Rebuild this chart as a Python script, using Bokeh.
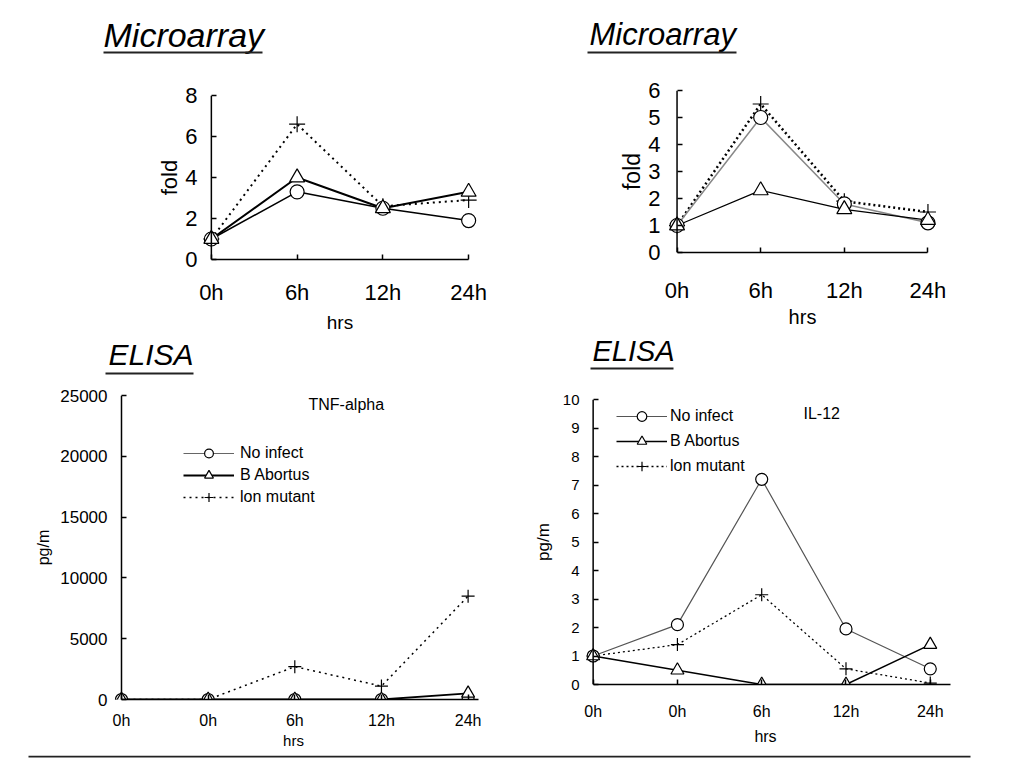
from bokeh.plotting import figure
from bokeh.models import Range1d, FixedTicker, Label, Arrow, Legend, LegendItem, LinearAxis, Span
from bokeh.layouts import row, column
from bokeh.embed import file_html
from bokeh.resources import INLINE

# ---------------- data ----------------
hours4 = ["0h", "6h", "12h", "24h"]
hours5 = ["0h", "0h", "6h", "12h", "24h"]
series_names = ["No infect", "B Abortus", "lon mutant"]

# Microarray (left)
tl_no_infect = [1.0, 3.3, 2.5, 1.9]
tl_abortus = [1.0, 4.0, 2.5, 3.3]
tl_lon = [1.0, 6.6, 2.6, 2.9]
tl_yticks = [0, 2, 4, 6, 8]

# Microarray (right)
tr_no_infect = [1.0, 5.0, 1.8, 1.1]
tr_abortus = [1.0, 2.3, 1.6, 1.2]
tr_lon = [1.0, 5.5, 1.9, 1.5]
tr_yticks = [0, 1, 2, 3, 4, 5, 6]

# ELISA TNF-alpha
bl_no_infect = [0, 0, 0, 0, 0]
bl_abortus = [0, 0, 0, 0, 500]
bl_lon = [0, 0, 2700, 1100, 8500]
bl_yticks = [0, 5000, 10000, 15000, 20000, 25000]

# ELISA IL-12
br_no_infect = [1.0, 2.1, 7.2, 1.95, 0.55]
br_abortus = [1.0, 0.5, 0.0, 0.0, 1.4]
br_lon = [1.0, 1.4, 3.15, 0.55, 0.05]
br_yticks = list(range(0, 11))

SANS = "Liberation Sans"


def base_fig(width, height, left, right, top, bottom, xr, yr):
    p = figure(width=width, height=height, x_range=Range1d(*xr), y_range=Range1d(*yr),
               min_border_left=left, min_border_right=right,
               min_border_top=top, min_border_bottom=bottom,
               output_backend="svg", toolbar_location=None, tools="")
    p.frame_align = False
    p.xgrid.visible = False
    p.ygrid.visible = False
    p.outline_line_color = None
    p.background_fill_color = "white"
    p.border_fill_color = "white"
    return p


def title_fig(width, height, text, tx, ty, ux0, ux1, uy, size):
    p = figure(width=width, height=height, x_range=Range1d(0, 1), y_range=Range1d(0, 1),
               min_border=0, x_axis_type=None, y_axis_type=None,
               output_backend="svg", toolbar_location=None, tools="")
    p.frame_align = False
    p.outline_line_color = None
    p.background_fill_color = "white"
    p.border_fill_color = "white"
    if text:
        p.add_layout(Label(x=tx, y=ty, x_units="screen", y_units="screen", text=text,
                           text_font=SANS, text_font_style="italic", text_font_size=size,
                           text_color="black", text_baseline="alphabetic"))
    p.add_layout(Arrow(end=None, x_start=ux0, y_start=uy, x_end=ux1, y_end=uy,
                       start_units="screen", end_units="screen",
                       line_color="#222222", line_width=2))
    return p


def style_x(ax, size, lw, standoff, bounds, ticks, labels):
    ax.axis_line_color = "black"
    ax.axis_line_width = lw
    ax.major_tick_line_color = "black"
    ax.major_tick_line_width = lw
    ax.major_tick_in = 5
    ax.major_tick_out = 0
    ax.minor_tick_line_color = None
    ax.major_label_text_font = SANS
    ax.major_label_text_font_size = size
    ax.major_label_text_color = "black"
    ax.major_label_standoff = standoff
    ax.bounds = bounds
    ax.ticker = FixedTicker(ticks=ticks)
    ax.major_label_overrides = dict(zip(ticks, labels))


def style_y(p, size, lw, standoff, ticks, label, label_size, label_standoff):
    # axis sits at the frame edge, 13 px left of x = 0; ticks are shifted onto x = 0
    ax = p.yaxis[0]
    ax.axis_line_color = None
    ax.major_tick_line_color = "black"
    ax.major_tick_line_width = lw
    ax.minor_tick_line_color = None
    ax.major_tick_in = 18
    ax.major_tick_out = -13
    ax.major_label_text_font = SANS
    ax.major_label_text_font_size = size
    ax.major_label_text_color = "black"
    ax.major_label_standoff = standoff
    ax.ticker = FixedTicker(ticks=ticks)
    ax.axis_label = label
    ax.axis_label_text_font = SANS
    ax.axis_label_text_font_style = "normal"
    ax.axis_label_text_font_size = label_size
    ax.axis_label_text_color = "black"
    ax.axis_label_standoff = label_standoff
    p.add_layout(Span(location=0, dimension="height", line_color="black", line_width=lw))


def series(p, xs, ys, color, width, dash):
    return p.line(xs, ys, line_color=color, line_width=width, line_dash=dash)


def markers(p, xs, ys, marker, size):
    return p.scatter(xs, ys, marker=marker, size=size, fill_color="white",
                     line_color="black", line_width=1.2)


def x_label(ax, size, standoff):
    ax.axis_label = "hrs"
    ax.axis_label_text_font = SANS
    ax.axis_label_text_font_style = "normal"
    ax.axis_label_text_font_size = size
    ax.axis_label_text_color = "black"
    ax.axis_label_standoff = standoff


x4 = list(range(len(hours4)))
x5 = list(range(len(hours5)))

# ---------------- top-left: Microarray ----------------
t1 = title_fig(510, 70, "Microarray", 103, 36, 103, 262, 18, "34px")
p1 = base_fig(510, 265, 198, 29, 25, 73, (-0.15, 3.15), (0, 8))
style_x(p1.xaxis[0], "22px", 1.5, 20, (0, 3), x4, hours4)
x_label(p1.xaxis[0], "19px", 4)
style_y(p1, "22px", 1.5, 1, tl_yticks, "fold", "22px", 0)
series(p1, x4, tl_lon, "black", 2, "2 4")
series(p1, x4, tl_no_infect, "black", 1.5, "solid")
series(p1, x4, tl_abortus, "black", 2, "solid")
markers(p1, x4, tl_lon, "cross", 16)
markers(p1, x4, tl_no_infect, "circle", 14)
markers(p1, x4, tl_abortus, "triangle", 15)

# ---------------- top-right: Microarray ----------------
t2 = title_fig(499, 70, "Microarray", 79, 36, 77, 226, 18, "31px")
p2 = base_fig(499, 260, 154, 69, 20, 78, (-0.15, 3.15), (0, 6))
style_x(p2.xaxis[0], "22px", 1.5, 25, (0, 3), x4, hours4)
x_label(p2.xaxis[0], "20px", 0)
style_y(p2, "22px", 1.5, 4, tr_yticks, "fold", "23px", 0)
series(p2, x4, tr_lon, "black", 2.5, "2 3")
series(p2, x4, tr_no_infect, "#888888", 1.5, "solid")
series(p2, x4, tr_abortus, "black", 1.2, "solid")
markers(p2, x4, tr_lon, "cross", 16)
markers(p2, x4, tr_no_infect, "circle", 14)
markers(p2, x4, tr_abortus, "triangle", 15)


def elisa_legend(p, rs, vx, vy, gh, spacing, standoff):
    items = [LegendItem(label=series_names[i], renderers=list(rs[i])) for i in range(3)]
    lg = Legend(items=items, location=(vx, vy), glyph_width=51, glyph_height=gh,
                label_height=gh, spacing=spacing, padding=0, margin=0,
                label_standoff=standoff, label_text_font=SANS, label_text_font_size="16px",
                label_text_color="black", border_line_alpha=0, background_fill_alpha=0)
    p.add_layout(lg)


def hrs_axis(p, bounds, standoff, size):
    ax = LinearAxis(bounds=bounds, ticker=FixedTicker(ticks=[]), axis_line_color=None,
                    major_tick_line_color=None, minor_tick_line_color=None,
                    major_tick_in=0, major_tick_out=0, major_label_standoff=0)
    x_label(ax, size, standoff)
    p.add_layout(ax, "below")


# ---------------- bottom-left: ELISA TNF-alpha ----------------
t3 = title_fig(510, 50, "ELISA", 108, 31, 105, 193, 12, "30px")
p3 = base_fig(510, 366, 108, 32, 10, 52, (-0.15, 4.12), (0, 25000))
style_x(p3.xaxis[0], "16px", 1.5, 12, (0, 4.12), x5, hours5)
style_y(p3, "17px", 1.5, 1, bl_yticks, "pg/m", "16px", 5)
hrs_axis(p3, (2, 4), 0, "15px")
l_lon = series(p3, x5, bl_lon, "black", 1.5, "2 4")
l_no = series(p3, x5, bl_no_infect, "#666666", 1.2, "solid")
l_ab = series(p3, x5, bl_abortus, "black", 1.8, "solid")
m_lon = markers(p3, x5, bl_lon, "cross", 13)
m_no = markers(p3, x5, bl_no_infect, "circle", 12)
m_ab = markers(p3, x5, bl_abortus, "triangle", 13)
elisa_legend(p3, [(l_no, m_no), (l_ab, m_ab), (l_lon, m_lon)], 75, 191, 22, 0, 6)
p3.add_layout(Label(x=200, y=295, x_units="screen", y_units="screen", text="TNF-alpha",
                    text_font=SANS, text_font_size="16px", text_baseline="middle",
                    text_color="black"))

# ---------------- bottom-right: ELISA IL-12 ----------------
t4 = title_fig(499, 55, "ELISA", 82, 35, 80, 163, 17, "29px")
p4 = base_fig(499, 366, 70, 59, 14, 67, (-0.15, 4.24), (0, 10))
style_x(p4.xaxis[0], "16px", 1.5, 18, (0, 4.24), x5, hours5)
style_y(p4, "15px", 1.5, 1, br_yticks, "pg/m", "17px", 7)
hrs_axis(p4, (2, 4), 5, "16px")
l_lon = series(p4, x5, br_lon, "black", 1.3, "2 3")
l_no = series(p4, x5, br_no_infect, "#555555", 1.2, "solid")
l_ab = series(p4, x5, br_abortus, "black", 1.5, "solid")
m_lon = markers(p4, x5, br_lon, "cross", 13)
m_no = markers(p4, x5, br_no_infect, "circle", 12)
m_ab = markers(p4, x5, br_abortus, "triangle", 13)
elisa_legend(p4, [(l_no, m_no), (l_ab, m_ab), (l_lon, m_lon)], 36, 206, 24, 1, 3)
p4.add_layout(Label(x=223, y=271, x_units="screen", y_units="screen", text="IL-12",
                    text_font=SANS, text_font_size="16px", text_baseline="middle",
                    text_color="black"))

# separator line under the ELISA panels
sep = title_fig(1009, 8, "", 0, 0, 28, 970, 7, "1px")

layout = column(
    row(column(t1, p1, t3, p3, spacing=0), column(t2, p2, t4, p4, spacing=0), spacing=0),
    sep,
    spacing=0,
)

open("out.html", "w").write(file_html(layout, INLINE))
